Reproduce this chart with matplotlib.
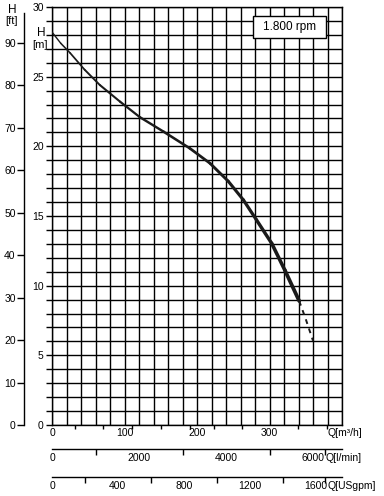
import numpy as np
import matplotlib.pyplot as plt
from matplotlib.patches import Rectangle

plt.rcParams["font.family"] = ["Liberation Sans", "DejaVu Sans"]
plt.rcParams["font.size"] = 7.5

# =============================================================================
# Data (Q in m3/h, H in m)

q_curve = [0, 12, 25, 45, 66, 94, 121, 154, 190, 218, 243, 264, 282, 303,
           321, 341]
h_curve = [28.2, 27.4, 26.7, 25.5, 24.4, 23.2, 22.1, 21.05, 19.86, 18.78,
           17.5, 16.15, 14.72, 13.04, 11.13, 8.9]
q_dash = [341, 350, 360]
h_dash = [8.9, 7.6, 6.05]

speed_label = "1.800 rpm"

q_labels = [0, 100, 200, 300]
q_minor = [32, 70, 110, 150, 190, 224, 262, 300, 339, 379]
lmin_labels = [0, 2000, 4000, 6000]
lmin_minor = [0, 1000, 3000, 5000, 6270]
gpm_labels = [0, 400, 800, 1200, 1600]
gpm_minor = [0, 200, 600, 1000, 1400, 1656]
h_labels = [0, 5, 10, 15, 20, 25, 30]
ft_labels = [0, 10, 20, 30, 40, 50, 60, 70, 80, 90]

Q_MAX = 400
H_MAX = 30
M_TO_FT = 1 / 0.3048
M3H_TO_LMIN = 1000 / 60
M3H_TO_GPM = 4.4029

W, H = 384, 496

# =============================================================================
fg = plt.figure(figsize=(W / 100, H / 100), dpi=100)

ax = fg.add_axes([52 / W, 1 - 425 / H, 290 / W, 418 / H])
ax.set_xlim(0, Q_MAX)
ax.set_ylim(0, H_MAX)

ax.vlines(np.arange(0, Q_MAX + 1, 20), 0, H_MAX, color="k", lw=1.0, zorder=1)
ax.hlines(np.arange(0, H_MAX + 1, 1), 0, Q_MAX, color="k", lw=1.0, zorder=1)
for sp in ax.spines.values():
    sp.set_linewidth(1.0)

ax.set_xticks(q_labels)
ax.set_xticks(q_minor, minor=True)
ax.tick_params(axis="x", which="major", length=0, pad=2)
ax.tick_params(axis="x", which="minor", length=3, width=1.0, direction="out")
ax.set_yticks(h_labels)
ax.set_yticks(np.arange(0, H_MAX + 1, 1), minor=True)
ax.tick_params(axis="y", which="both", length=4, width=1.0, direction="out", pad=2)

# curve, getting heavier towards the right
widths = np.linspace(1.0, 2.7, len(q_curve) - 1)
for i in range(len(q_curve) - 1):
    ax.plot(q_curve[i:i + 2], h_curve[i:i + 2], color="#1a1a1a",
            lw=widths[i], solid_capstyle="round", zorder=3)
ax.plot(q_dash, h_dash, color="#1a1a1a", lw=1.4, ls=(0, (2.5, 2.5)), zorder=3)

# speed box
ax.add_patch(Rectangle((277, 27.78), 101, 1.58, fc="white", ec="k", lw=1.0,
                       zorder=4))
ax.text(327.5, 28.57, speed_label, ha="center", va="center", fontsize=8.5,
        zorder=5)

ax.text(-15, 28.1, "H", ha="center", va="center", fontsize=8.5)
ax.text(-16, 27.3, "[m]", ha="center", va="center", fontsize=8)
fg.text(328 / W, 1 - 433 / H, "Q[m³/h]", ha="left", va="center", fontsize=7.5)

# -----------------------------------------------------------------------------
# secondary head scale in feet
axf = fg.add_axes([24 / W, 1 - 425 / H, 0.001, 418 / H])
axf.set_ylim(0, H_MAX * M_TO_FT)
axf.patch.set_visible(False)
for k in ["top", "right", "bottom"]:
    axf.spines[k].set_visible(False)
axf.spines["left"].set_bounds(0, 97)
axf.spines["left"].set_linewidth(1.0)
axf.set_xticks([])
axf.set_yticks(ft_labels)
axf.tick_params(axis="y", length=5, width=1.0, pad=1)
fg.text(12 / W, 1 - 10 / H, "H", ha="center", va="center", fontsize=8.5)
fg.text(12 / W, 1 - 21 / H, "[ft]", ha="center", va="center", fontsize=8)


# -----------------------------------------------------------------------------
# secondary flow scales
def flow_scale(y_px, factor, labels, minor, unit, unit_x):
    a = fg.add_axes([52 / W, 1 - y_px / H, 290 / W, 0.001])
    a.set_xlim(0, Q_MAX * factor)
    a.patch.set_visible(False)
    for k in ["bottom", "left", "right"]:
        a.spines[k].set_visible(False)
    a.spines["top"].set_linewidth(1.0)
    a.set_yticks([])
    a.xaxis.set_ticks_position("top")
    a.set_xticks(labels)
    a.set_xticks(minor, minor=True)
    a.tick_params(axis="x", which="major", length=0, pad=3,
                  labeltop=False, labelbottom=True, bottom=False)
    a.tick_params(axis="x", which="minor", length=4, width=1.0,
                  direction="in", top=True)
    fg.text(unit_x / W, 1 - (y_px + 9) / H, unit, ha="left", va="center",
            fontsize=7.5)
    return a


flow_scale(449, M3H_TO_LMIN, lmin_labels, lmin_minor, "Q[l/min]", 326)
flow_scale(477, M3H_TO_GPM, gpm_labels, gpm_minor, "Q[USgpm]", 328)

fg.savefig("out.png", dpi=100)
